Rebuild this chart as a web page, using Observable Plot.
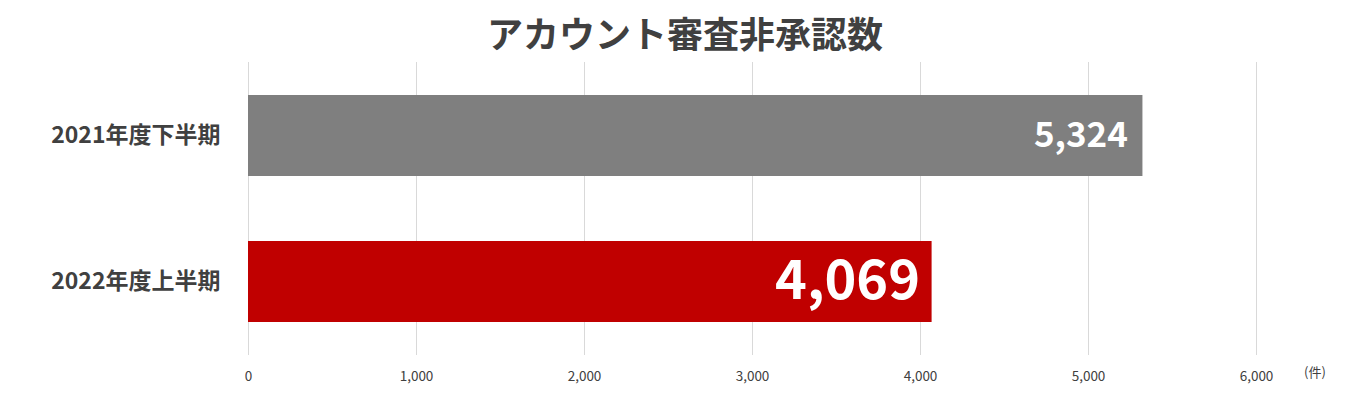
<!DOCTYPE html>
<html><head><meta charset="utf-8">
<script src="https://cdn.jsdelivr.net/npm/d3@7"></script>
<script src="https://cdn.jsdelivr.net/npm/@observablehq/plot@0.6"></script>
<style>
body{margin:0;background:#fff;width:1360px;height:407px;overflow:hidden;position:relative;font-family:"Noto Sans CJK JP","Noto Sans",sans-serif;}
#title{height:62px;line-height:64px;text-align:center;padding-left:10px;font-size:36px;font-weight:bold;color:#404040;}
#unit{position:absolute;left:1304px;top:362px;font-size:13px;color:#404040;}
</style></head>
<body>
<div id="title">アカウント審査非承認数</div>
<div id="chart"></div>
<div id="unit">(件)</div>
<script>
const periods = ["2021年度下半期", "2022年度上半期"];
const counts = [5324, 4069];
const xTicks = [0, 1000, 2000, 3000, 4000, 5000, 6000];

const data = periods.map((p, i) => ({period: p, count: counts[i]}));
const fmt = d3.format(",");

const chart = Plot.plot({
  width: 1360,
  height: 345,
  marginTop: 0,
  marginBottom: 52,
  marginLeft: 248,
  marginRight: 104,
  style: {fontFamily: '"Noto Sans CJK JP","Noto Sans",sans-serif', background: "#fff"},
  x: {domain: [0, 6000], ticks: xTicks, tickFormat: fmt, label: null},
  y: {domain: periods, paddingInner: 0.442, paddingOuter: 0.218, label: null},
  color: {domain: periods, range: ["#7f7f7f", "#c00000"]},
  marks: [
    Plot.gridX(xTicks, {stroke: "#d9d9d9", strokeOpacity: 1}),
    Plot.axisX({ticks: xTicks, tickFormat: fmt, tickSize: 0, tickPadding: 16, fontSize: 13.5, color: "#404040", label: null}),
    Plot.axisY({tickSize: 0, tickPadding: 28, fontSize: 23, fontWeight: "bold", color: "#404040", label: null}),
    Plot.barX(data, {x: "count", y: "period", fill: "period"}),
    Plot.text(data.filter((d, i) => i === 0), {x: "count", y: "period", text: d => fmt(d.count), textAnchor: "end", dx: -15, fill: "#fff", fontSize: 35, fontWeight: "bold"}),
    Plot.text(data.filter((d, i) => i === 1), {x: "count", y: "period", text: d => fmt(d.count), textAnchor: "end", dx: -12, fill: "#fff", fontSize: 54, fontWeight: "bold"})
  ]
});
document.getElementById("chart").appendChild(chart);
</script>
</body></html>
